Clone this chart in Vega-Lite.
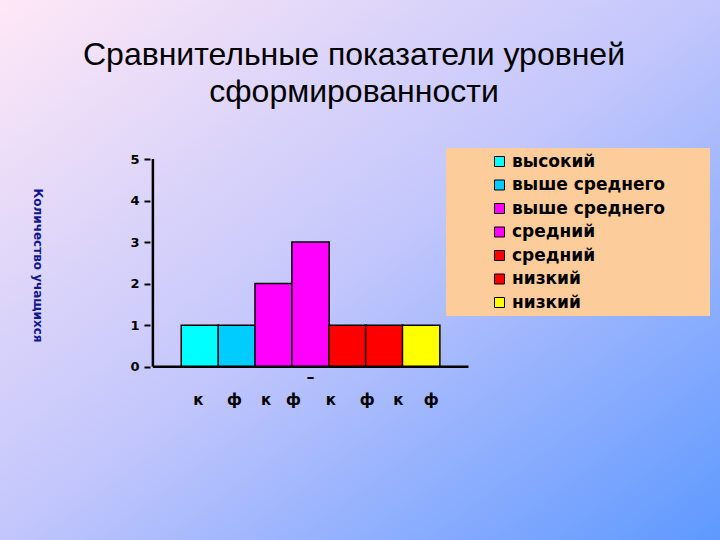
{
  "$schema": "https://vega.github.io/schema/vega-lite/v6.json",
  "width": 720,
  "height": 540,
  "autosize": {"type": "none"},
  "padding": 0,
  "background": "#c6c8f8",
  "view": {
    "stroke": null,
    "fill": {
      "gradient": "linear",
      "x1": 0, "y1": 0, "x2": 1, "y2": 1,
      "stops": [
        {"offset": 0, "color": "#ffe8f6"},
        {"offset": 0.5, "color": "#c2c6fc"},
        {"offset": 1, "color": "#5e99ff"}
      ]
    }
  },
  "title": {
    "text": ["Сравнительные показатели уровней", "сформированности"],
    "font": "Liberation Sans",
    "fontSize": 32,
    "fontWeight": "normal",
    "color": "black",
    "anchor": "middle",
    "frame": "group",
    "baseline": "top",
    "lineHeight": 37,
    "offset": -109,
    "dx": -6
  },
  "layer": [
    {
      "data": {
        "values": [
          {"n": 1, "series": "1 высокий", "value": 1},
          {"n": 2, "series": "2 выше среднего", "value": 1},
          {"n": 3, "series": "3 выше среднего", "value": 2},
          {"n": 4, "series": "4 средний", "value": 3},
          {"n": 5, "series": "5 средний", "value": 1},
          {"n": 6, "series": "6 низкий", "value": 1},
          {"n": 7, "series": "7 низкий", "value": 1}
        ]
      },
      "mark": {"type": "bar", "width": 37.39, "stroke": "black", "strokeWidth": 1.5},
      "encoding": {
        "x": {
          "field": "n",
          "type": "quantitative",
          "scale": {"domain": [-4.287, 14.969], "nice": false, "zero": false},
          "axis": {
            "values": [0.945, 1.925, 2.781, 3.522, 4.539, 5.519, 6.365, 7.258],
            "labelExpr": "round(datum.index * 7) % 2 == 0 ? 'к' : 'ф'",
            "offset": -173.3,
            "ticks": false,
            "tickSize": 0,
            "domain": false,
            "grid": false,
            "labelPadding": 26,
            "labelFont": "DejaVu Sans",
            "labelFontWeight": "bold",
            "labelFontSize": 15,
            "labelColor": "black",
            "labelAngle": 0,
            "labelOverlap": false,
            "labelFlush": false,
            "labelBound": false,
            "title": null
          }
        },
        "y": {
          "field": "value",
          "type": "quantitative",
          "stack": null,
          "scale": {"domain": [-4.172, 8.828], "nice": false, "zero": false},
          "axis": {
            "values": [0, 1, 2, 3, 4, 5],
            "offset": -150,
            "domain": false,
            "grid": false,
            "ticks": true,
            "tickSize": 6,
            "tickWidth": 2,
            "tickColor": "black",
            "labelPadding": 5,
            "labelFont": "DejaVu Sans",
            "labelFontWeight": "bold",
            "labelFontSize": 13,
            "labelColor": "black",
            "labelOverlap": false,
            "title": "Количество учащихся",
            "titleX": -112.5,
            "titleY": 265,
            "titleAngle": 90,
            "titleAlign": "center",
            "titleBaseline": "middle",
            "titleFont": "DejaVu Sans",
            "titleFontWeight": "bold",
            "titleFontSize": 12,
            "titleColor": "#12168c"
          }
        },
        "y2": {"datum": 0},
        "color": {
          "field": "series",
          "type": "nominal",
          "scale": {
            "domain": ["1 высокий", "2 выше среднего", "3 выше среднего", "4 средний", "5 средний", "6 низкий", "7 низкий"],
            "range": ["#00FFFF", "#00CCFF", "#FF00FF", "#FF00FF", "#FF0000", "#FF0000", "#FFFF00"]
          },
          "legend": {
            "orient": "none",
            "legendX": 446,
            "legendY": 148,
            "fillColor": "#FDCC9B",
            "strokeColor": null,
            "padding": 5,
            "title": null,
            "symbolType": "square",
            "symbolSize": 100,
            "symbolStrokeColor": "black",
            "symbolStrokeWidth": 1,
            "symbolOpacity": 1,
            "symbolOffset": 40,
            "labelOffset": 4,
            "labelFont": "DejaVu Sans",
            "labelFontWeight": "bold",
            "labelFontSize": 17,
            "labelColor": "black",
            "labelLimit": 400,
            "rowPadding": 5.5,
            "labelExpr": "slice(datum.label, 2) + '\u2800\u2800\u2800'"
          }
        }
      }
    },
    {
      "data": {"values": [{}]},
      "mark": {"type": "rule", "color": "black", "strokeWidth": 2.5},
      "encoding": {
        "x": {"datum": -0.276},
        "y": {"datum": 0},
        "y2": {"datum": 5}
      }
    },
    {
      "data": {"values": [{}]},
      "mark": {"type": "rule", "color": "black", "strokeWidth": 2.5},
      "encoding": {
        "x": {"datum": -0.276},
        "x2": {"datum": 8.283},
        "y": {"datum": 0}
      }
    },
    {
      "data": {"values": [{}]},
      "mark": {"type": "text", "text": "–", "font": "DejaVu Sans", "fontWeight": "bold", "fontSize": 16, "color": "black", "baseline": "middle"},
      "encoding": {
        "x": {"datum": 4},
        "y": {"datum": -0.24}
      }
    }
  ],
  "config": {
    "view": {"stroke": null},
    "axis": {"grid": false}
  }
}
